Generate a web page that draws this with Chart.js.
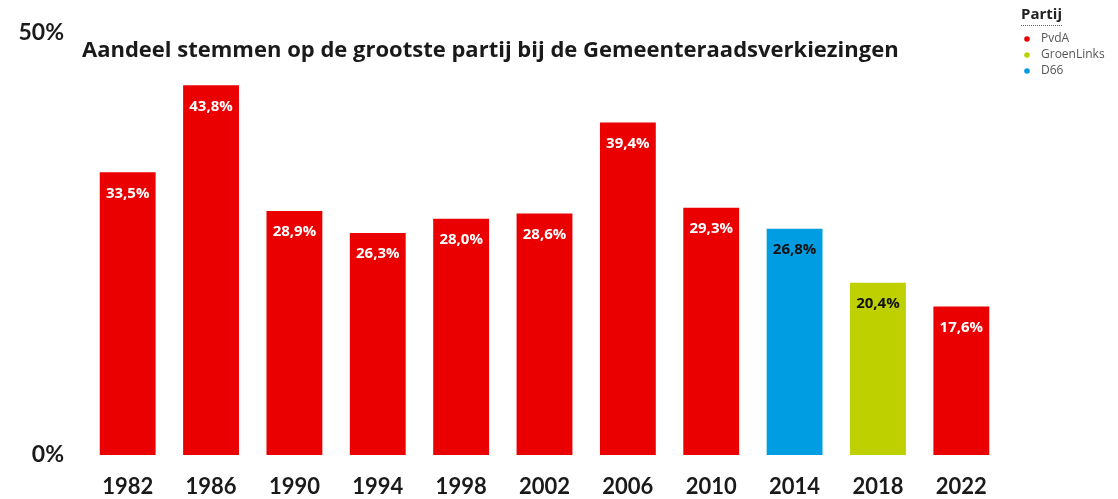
<!DOCTYPE html>
<html>
<head>
<meta charset="utf-8">
<script src="https://cdn.jsdelivr.net/npm/chart.js@4"></script>
<style>
  html, body { margin: 0; padding: 0; background: #fff; }
  #wrap { width: 1118px; height: 499px; position: relative; }
</style>
</head>
<body>
<div id="wrap"><canvas id="chart"></canvas></div>
<script>
// verkiezingsjaren en aandeel van de grootste partij
const years = ['1982', '1986', '1990', '1994', '1998', '2002', '2006', '2010', '2014', '2018', '2022'];
const shares = [33.5, 43.8, 28.9, 26.3, 28.0, 28.6, 39.4, 29.3, 26.8, 20.4, 17.6];
const winners = ['PvdA', 'PvdA', 'PvdA', 'PvdA', 'PvdA', 'PvdA', 'PvdA', 'PvdA', 'D66', 'GroenLinks', 'PvdA'];
const yTicks = [0, 50];

const partyColors = { PvdA: '#EA0000', GroenLinks: '#BED000', D66: '#009DE2' };
const labelColors = { PvdA: '#ffffff', GroenLinks: '#111111', D66: '#111111' };
const legendParties = ['PvdA', 'GroenLinks', 'D66'];

const titleText = 'Aandeel stemmen op de grootste partij bij de Gemeenteraadsverkiezingen';

const fmt = v => v.toFixed(1).replace('.', ',') + '%';

const extras = {
  id: 'extras',
  afterDatasetsDraw(chart) {
    const ctx = chart.ctx;
    const meta = chart.getDatasetMeta(0);
    ctx.save();
    ctx.textAlign = 'center';
    ctx.textBaseline = 'middle';
    ctx.font = 'bold 15px "Open Sans"';
    meta.data.forEach((bar, i) => {
      ctx.fillStyle = labelColors[winners[i]];
      ctx.fillText(fmt(shares[i]), bar.x, bar.y + 21);
    });

    // titel
    ctx.textAlign = 'left';
    ctx.fillStyle = '#1a1a1a';
    ctx.font = 'bold 22px "Open Sans"';
    ctx.fillText(titleText, 82, 51);

    // legenda
    ctx.font = 'bold 15px "Open Sans"';
    ctx.fillStyle = '#222';
    ctx.fillText('Partij', 1021, 15);
    const w = ctx.measureText('Partij').width;
    ctx.strokeStyle = '#e03030';
    ctx.lineWidth = 1;
    ctx.setLineDash([1, 1]);
    ctx.beginPath();
    ctx.moveTo(1021, 25.5);
    ctx.lineTo(1021 + w, 25.5);
    ctx.stroke();
    ctx.setLineDash([]);
    ctx.font = '12px "Open Sans"';
    legendParties.forEach((p, i) => {
      const y = 39 + i * 16;
      ctx.fillStyle = partyColors[p];
      ctx.beginPath();
      ctx.arc(1027, y, 2.8, 0, Math.PI * 2);
      ctx.fill();
      ctx.fillStyle = '#555';
      ctx.fillText(p, 1041, y);
    });
    ctx.restore();
  }
};

new Chart(document.getElementById('chart'), {
  type: 'bar',
  data: {
    labels: years,
    datasets: [{
      data: shares,
      backgroundColor: winners.map(p => partyColors[p]),
      categoryPercentage: 1,
      barPercentage: 0.67
    }]
  },
  options: {
    responsive: true,
    maintainAspectRatio: false,
    animation: false,
    layout: { padding: { top: 33, right: 115, left: 0, bottom: 0 } },
    scales: {
      x: {
        grid: { display: false, drawTicks: false },
        border: { display: false },
        ticks: { color: '#1a1a1a', font: { size: 22, weight: 'bold', family: 'Lato' }, padding: 19 },
        afterFit(s) { s.height = 44; }
      },
      y: {
        min: 0,
        max: 50,
        grid: { display: false, drawTicks: false },
        border: { display: false },
        afterBuildTicks(s) { s.ticks = yTicks.map(v => ({ value: v })); },
        afterFit(s) { s.width = 86; s.paddingTop = 0; s.paddingBottom = 0; },
        ticks: {
          color: '#1a1a1a',
          font: { size: 23, weight: 'bold', family: 'Lato' },
          padding: 22,
          callback: v => v + '%'
        }
      }
    },
    plugins: {
      legend: { display: false },
      title: { display: false },
      tooltip: { enabled: false }
    }
  },
  plugins: [extras]
});
</script>
</body>
</html>
